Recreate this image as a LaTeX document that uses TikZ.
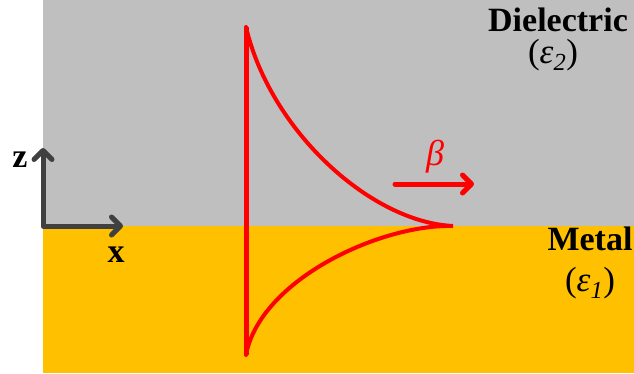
\documentclass[tikz,border=0pt]{standalone}
\usepackage{fontspec}
\setmainfont{Liberation Serif}
\usetikzlibrary{arrows.meta}
\definecolor{dielgray}{HTML}{BFBFBF}
\definecolor{metalgold}{HTML}{FFC000}
\definecolor{axisgray}{HTML}{404040}

\begin{document}
\begin{tikzpicture}[x=1pt,y=-1pt,
  lbl/.style={inner sep=0pt,font=\fontsize{34}{36}\selectfont\bfseries},
  epslbl/.style={inner sep=0pt,font=\fontsize{35}{37}\selectfont},
  barb/.style={-{Straight Barb[length=9pt,width=18pt,line cap=round,line join=round]}}]
\useasboundingbox (0,0) rectangle (634,373);
% the two media
\fill[dielgray] (43,0) rectangle (634,226);
\fill[metalgold] (43,226) rectangle (634,373);
% axes
\coordinate (origin) at (43,226);
\coordinate (ztip) at (43,148);
\coordinate (xtip) at (123,226);
\draw[axisgray,line width=5pt,line join=round,{Straight Barb[length=9pt,width=18pt,line cap=round,line join=round]}-{Straight Barb[length=9pt,width=18pt,line cap=round,line join=round]}]
  (ztip) -- (origin) -- (xtip);
\node[lbl] (zlab) at (20,160) {z};
\node[lbl] (xlab) at (116,255) {x};
% field profile
\coordinate (top) at (246,27);
\coordinate (bot) at (246,355);
\coordinate (tip) at (453,226);
\draw[red,line width=5pt] (top) -- (bot);
\draw[red,line width=4pt,line cap=round] (top) .. controls (270,130) and (370,222) .. (tip)
  .. controls (380,224) and (260,280) .. (bot);
% propagation
\coordinate (bstart) at (395,184);
\coordinate (bend) at (474,184);
\draw[red,line width=5pt,line cap=round,barb] (bstart) -- (bend);
\node[inner sep=0pt,text=red,font=\fontsize{36}{38}\selectfont\itshape] (beta) at (435,157) {β};
% media labels
\node[lbl] (diel) at (558,20) {Dielectric};
\node[epslbl] (eps2) at (553,55) {(\textit{ε\textsubscript{2}})};
\node[lbl] (metal) at (590,239) {Metal};
\node[epslbl] (eps1) at (590,283) {(\textit{ε\textsubscript{1}})};
\end{tikzpicture}
\end{document}
